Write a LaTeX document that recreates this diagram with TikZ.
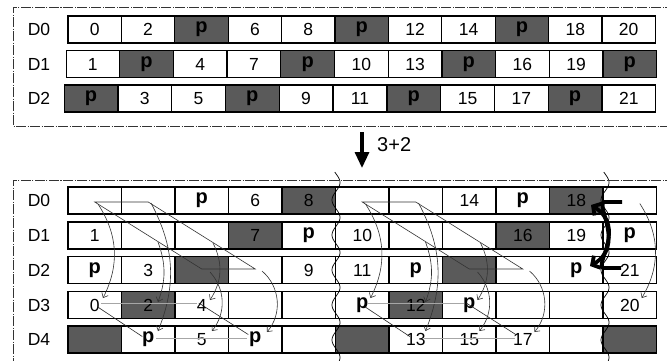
\documentclass[tikz,border=0pt]{standalone}
\usepackage{fontspec}
\setmainfont{Liberation Sans}
\usetikzlibrary{arrows.meta}
\definecolor{cellgray}{HTML}{5A5A5A}
\definecolor{linegray}{HTML}{333333}
\newcommand\pp{{\fontsize{20}{20}\selectfont\bfseries p}}
\newcommand\drawrow[5]{%
  \foreach \fc/\tx [count=\c] in {#5} {
    \node[cell,fill=\fc] (#1-\c) at ({#3+(\c-0.5)*#4},#2) {\tx};
  }}
\begin{document}
\begin{tikzpicture}[x=1pt,y=-1pt,
  cell/.style={draw=black,line width=1.1pt,minimum width=53.5pt,minimum height=27pt,
    inner sep=0pt,outer sep=0pt,font=\fontsize{17.5}{17.5}\selectfont},
  lab/.style={inner sep=0pt,font=\fontsize{17.5}{17.5}\selectfont},
  boxline/.style={draw=linegray,line width=0.8pt,dash pattern=on 10pt off 1.5pt on 1pt off 1.5pt},
  wave/.style={draw=black,line width=0.7pt},
  para/.style={draw=linegray,line width=0.6pt},
  carr/.style={draw=linegray,line width=0.6pt,-{Straight Barb[length=4pt,width=7pt]}},
  hline/.style={draw=gray!70,line width=0.8pt},
  dline/.style={draw=gray!30!black,line width=0.6pt},
  tarr/.style={draw=black,line width=3.8pt,-{Straight Barb[length=6pt,width=14pt]}},
  bigarr/.style={draw=black,line width=3.2pt,-{Triangle[length=16pt,width=14pt]}}
]
\fill[white] (0,0) rectangle (667,360);
\useasboundingbox (0,0) rectangle (667,360);

% ---------- top box ----------
\draw[boxline] (675,7) -- (13,7) -- (13,126) -- (675,126);
\node[lab] (lt0) at (39,29.5) {D0};
\node[lab] (lt1) at (39,64) {D1};
\node[lab] (lt2) at (39,98.5) {D2};
\drawrow{t0}{29.5}{68}{53.4}{white/0,white/2,cellgray/\pp,white/6,white/8,cellgray/\pp,white/12,white/14,cellgray/\pp,white/18,white/20}
\drawrow{t1}{64}{66}{53.7}{white/1,cellgray/\pp,white/4,white/7,cellgray/\pp,white/10,white/13,cellgray/\pp,white/16,white/19,cellgray/\pp}
\drawrow{t2}{98.5}{64}{53.8}{cellgray/\pp,white/3,white/5,cellgray/\pp,white/9,white/11,cellgray/\pp,white/15,white/17,cellgray/\pp,white/21}

% ---------- big arrow ----------
\coordinate (ar1) at (362,132);
\coordinate (ar2) at (362,168);
\draw[bigarr] (ar1) -- (ar2);
\node[inner sep=0pt,font=\fontsize{20}{20}\selectfont,anchor=west] (plus) at (377,145) {3+2};

% ---------- bottom box ----------
\draw[boxline] (675,180) -- (13,180) -- (13,370);
\node[lab] (lb0) at (39,200.5) {D0};
\node[lab] (lb1) at (39,235.5) {D1};
\node[lab] (lb2) at (39,270) {D2};
\node[lab] (lb3) at (39,305) {D3};
\node[lab] (lb4) at (39,339.5) {D4};
\drawrow{b0}{200.5}{68}{53.5}{white/,white/,white/\pp,white/6,cellgray/8,white/,white/,white/14,white/\pp,cellgray/18,white/}
\drawrow{b1}{235.5}{68}{53.5}{white/1,white/,white/,cellgray/7,white/\pp,white/10,white/,white/,cellgray/16,white/19,white/\pp}
\drawrow{b2}{270}{68}{53.5}{white/\pp,white/3,cellgray/,white/,white/9,white/11,white/\pp,cellgray/,white/,white/\pp,white/21}
\drawrow{b3}{305}{68}{53.5}{white/0,cellgray/2,white/4,white/,white/,white/\pp,cellgray/12,white/\pp,white/,white/,white/20}
\drawrow{b4}{339.5}{68}{53.5}{cellgray/,white/\pp,white/5,white/\pp,white/,cellgray/,white/13,white/15,white/17,white/,cellgray/}

% ---------- migration arrows ----------
\foreach \ca/\cb/\cc/\cd in {1/2/3/4,6/7/8/9} {
  \draw[para] ([shift={(0,1.5)}]b0-\ca.center) -- ([shift={(0,1.5)}]b0-\cb.center)
    -- ([shift={(0,-1)}]b2-\cd.center) -- ([shift={(0,-1)}]b2-\cc.center) -- cycle;
  \draw[carr] ([shift={(3.25,3.5)}]b0-\ca.center) to[bend left=30] ([shift={(8.25,-7)}]b3-\ca.center);
  \draw[carr] ([shift={(2.75,2.5)}]b0-\cb.center) to[bend left=25] ([shift={(9.75,-8.5)}]b4-\cb.center);
  \draw[carr] ([shift={(9.75,6.5)}]b1-\cb.center) to[bend left=20] ([shift={(9.75,-3)}]b3-\cb.center);
  \draw[carr] ([shift={(11.25,7.5)}]b1-\cc.center) to[bend left=30] ([shift={(8.25,-5)}]b3-\cc.center);
  \draw[carr] ([shift={(8.25,2)}]b2-\cc.center) to[bend left=40] ([shift={(10.25,-8.5)}]b4-\cc.center);
  \draw[carr] ([shift={(6.75,1)}]b2-\cd.center) to[bend left=45] ([shift={(11.75,-7.5)}]b4-\cd.center);
  \draw[hline] ([shift={(6,-2)}]b3-\ca.center) -- ([shift={(-5,-2)}]b3-\cc.center);
  \draw[dline] ([shift={(3,2)}]b3-\ca.center) -- ([shift={(-6,-3)}]b4-\cb.center);
  \draw[hline] ([shift={(8,-1)}]b4-\cb.center) -- ([shift={(-8,-1)}]b4-\cd.center);
  \draw[dline] ([shift={(-3,-2)}]b3-\cc.center) -- ([shift={(-7,-5)}]b4-\cd.center);
}
\draw[carr] ([shift={(10,3)}]b0-11.center) to[bend left=32] ([shift={(12,-7)}]b3-11.center);

% ---------- wavy cut lines ----------
\draw[wave] plot[domain=172:362,samples=150,smooth] ({336-4*cos((\x-200)/35*360)},\x);
\draw[wave] plot[domain=172:362,samples=150,smooth] ({605-4*cos((\x-200)/35*360)},\x);

% ---------- thick swap arrows ----------
\draw[tarr] ([shift={(-7.75,1.5)}]b0-11.center) -- ++(-18,0)
  .. controls +(-8,4) and +(35,-20) .. ([shift={(13.75,-4)}]b2-10.center);
\draw[tarr] ([shift={(-8.75,-2)}]b2-11.center) -- ++(-18,0)
  .. controls +(-8,-4) and +(35,22) .. ([shift={(14.75,4.5)}]b0-10.center);
\end{tikzpicture}
\end{document}
